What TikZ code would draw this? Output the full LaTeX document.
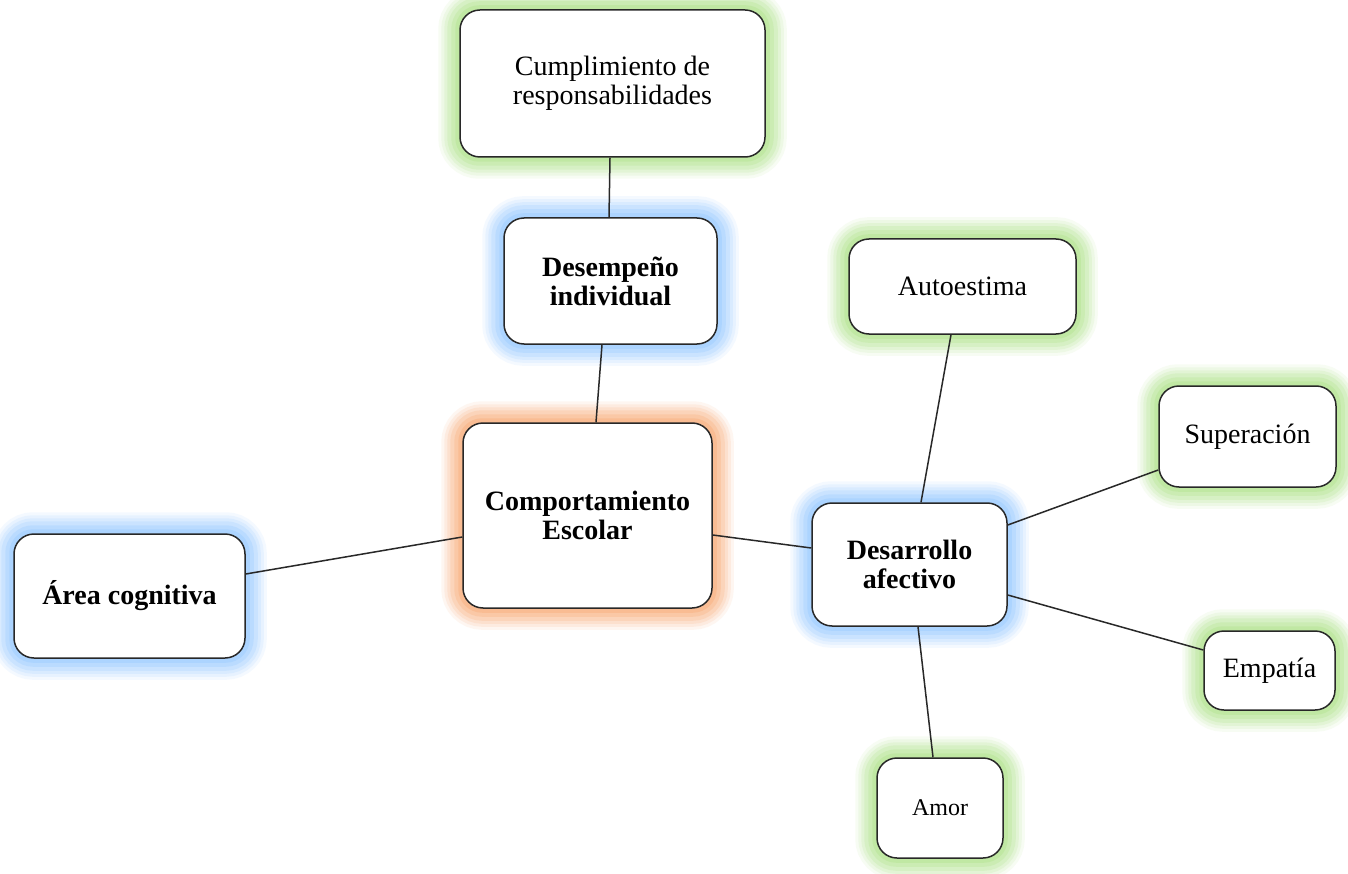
\documentclass[tikz,border=0pt]{standalone}
\usepackage{fontspec}
\setmainfont{Liberation Serif}
\usetikzlibrary{backgrounds}
\definecolor{glowgreen}{RGB}{180,228,145}
\definecolor{glowblue}{RGB}{155,205,255}
\definecolor{gloworange}{RGB}{248,175,125}
\definecolor{edge}{RGB}{40,40,40}
\tikzset{
  box/.style={draw=edge, line width=1.5pt, fill=white, rounded corners=20pt, align=center, inner sep=0pt,
    font=\fontsize{28}{29}\selectfont},
  bbox/.style={box, font=\fontsize{28}{29}\selectfont\bfseries},
  link/.style={draw=edge, line width=1.5pt},
}
\newcommand{\glowbox}[2]{%
  \foreach \w/\o in {42/0.10, 36/0.14, 30/0.18, 24/0.24, 16/0.32, 8/0.45}{%
    \draw[#2, line width=\w pt, opacity=\o, rounded corners=20pt] (#1.south west) rectangle (#1.north east);
  }%
}
\begin{document}
\begin{tikzpicture}[x=1pt,y=-1pt]
\useasboundingbox (0,0) rectangle (1348,874);
\node[box, minimum width=305pt, minimum height=147pt] (cump) at (612.5,83.5) {Cumplimiento de\\responsabilidades};
\node[bbox, minimum width=213pt, minimum height=126pt] (des) at (610.5,281) {Desempeño\\individual};
\node[bbox, minimum width=249pt, minimum height=185pt] (comp) at (587.5,515.5) {Comportamiento\\Escolar};
\node[bbox, minimum width=231pt, minimum height=124pt] (area) at (129.5,596) {Área cognitiva};
\node[bbox, minimum width=195pt, minimum height=123pt] (afec) at (909.5,564.5) {Desarrollo\\afectivo};
\node[box, minimum width=227pt, minimum height=95pt] (auto) at (962.5,286.5) {Autoestima};
\node[box, minimum width=177pt, minimum height=101pt] (sup) at (1247.5,436.5) {Superación};
\node[box, minimum width=131pt, minimum height=79pt] (emp) at (1269.5,670.5) {Empatía};
\node[box, minimum width=126pt, minimum height=100pt, font=\fontsize{24}{26}\selectfont] (amor) at (940,808) {Amor};
\begin{scope}[on background layer]
\fill[white] (0,0) rectangle (1348,874);
\glowbox{cump}{glowgreen}
\glowbox{auto}{glowgreen}
\glowbox{sup}{glowgreen}
\glowbox{emp}{glowgreen}
\glowbox{amor}{glowgreen}
\glowbox{des}{glowblue}
\glowbox{area}{glowblue}
\glowbox{afec}{glowblue}
\glowbox{comp}{gloworange}
\end{scope}
\draw[link] ([xshift=-2.5pt]cump.south) -- ([xshift=-1.5pt]des.north);
\draw[link] ([xshift=-8.5pt]des.south) -- ([xshift=8.5pt]comp.north);
\draw[link] ([yshift=22pt]area.east) -- ([yshift=-21.5pt]comp.west);
\draw[link] ([yshift=-19.5pt]comp.east) -- ([yshift=16.5pt]afec.west);
\draw[link] ([xshift=11.5pt]afec.north) -- ([xshift=-11.5pt]auto.south);
\draw[link] ([yshift=39.5pt]afec.east) -- ([yshift=-33.5pt]sup.west);
\draw[link] ([yshift=-30.5pt]afec.east) -- ([yshift=20.5pt]emp.west);
\draw[link] ([xshift=8.5pt]afec.south) -- ([xshift=-7pt]amor.north);
\end{tikzpicture}
\end{document}
